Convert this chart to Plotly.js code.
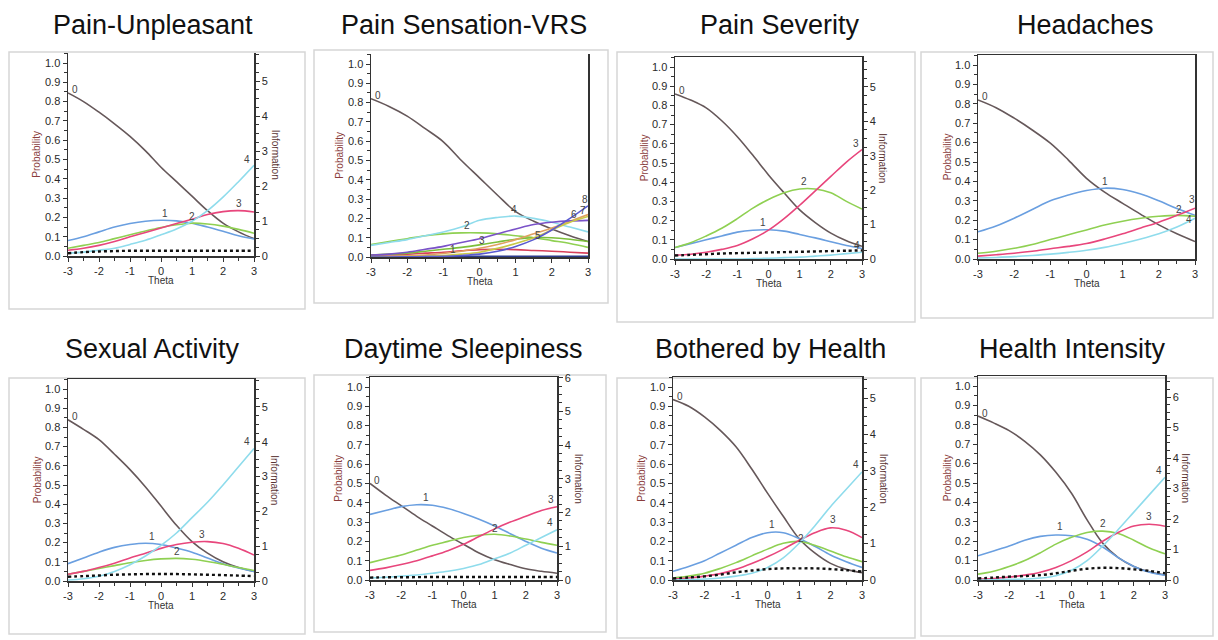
<!DOCTYPE html>
<html><head><meta charset="utf-8">
<script src="https://cdn.plot.ly/plotly-3.0.1.min.js"></script>
<style>html,body{margin:0;padding:0;background:#fff}#chart{width:1218px;height:640px}</style>
</head><body><div id="chart"></div>
<script>
// ---------- data ----------
const theta = [-3,-2.5,-2,-1.5,-1,-0.5,0,0.5,1,1.5,2,2.5,3];
const xTicks = [-3,-2,-1,0,1,2,3];
const titles = ['Pain-Unpleasant','Pain Sensation-VRS','Pain Severity','Headaches',
                'Sexual Activity','Daytime Sleepiness','Bothered by Health','Health Intensity'];

// Pain-Unpleasant
const pu0 = [0.845,0.80,0.745,0.685,0.62,0.545,0.46,0.385,0.31,0.235,0.17,0.125,0.09];
const pu1 = [0.08,0.10,0.125,0.15,0.168,0.18,0.185,0.182,0.17,0.15,0.128,0.105,0.088];
const pu2 = [0.04,0.055,0.07,0.09,0.11,0.13,0.148,0.162,0.17,0.166,0.155,0.138,0.118];
const pu3 = [0.03,0.04,0.055,0.075,0.10,0.122,0.145,0.168,0.19,0.215,0.23,0.235,0.228];
const pu4 = [0.015,0.02,0.03,0.04,0.06,0.082,0.11,0.14,0.18,0.235,0.305,0.385,0.47];
const puInfo = [0.08,0.11,0.13,0.14,0.15,0.15,0.15,0.15,0.15,0.15,0.15,0.15,0.15];

// Pain Sensation-VRS
const vrs0 = [0.82,0.78,0.73,0.665,0.597,0.50,0.41,0.32,0.235,0.185,0.145,0.11,0.08];
const vrs1 = [0.01,0.012,0.015,0.02,0.025,0.032,0.038,0.04,0.038,0.034,0.03,0.025,0.02];
const vrs2 = [0.065,0.08,0.095,0.11,0.12,0.125,0.125,0.12,0.11,0.10,0.085,0.07,0.05];
const vrs3 = [0.01,0.015,0.02,0.03,0.04,0.05,0.063,0.078,0.092,0.10,0.10,0.092,0.08];
const vrs4 = [0.06,0.075,0.09,0.11,0.13,0.155,0.19,0.205,0.212,0.20,0.18,0.155,0.13];
const vrs5 = [0.0,0.003,0.006,0.01,0.018,0.03,0.045,0.065,0.09,0.12,0.15,0.185,0.22];
const vrs6 = [0.01,0.015,0.025,0.04,0.055,0.075,0.095,0.12,0.145,0.168,0.18,0.187,0.19];
const vrs7 = [0.0,0.001,0.002,0.004,0.008,0.015,0.025,0.045,0.07,0.10,0.14,0.18,0.21];
const vrs8 = [0.0,0.0,0.001,0.002,0.004,0.008,0.015,0.03,0.055,0.09,0.14,0.20,0.265];
const vrsBase = [0.003,0.003,0.003,0.003,0.003,0.003,0.003,0.003,0.003,0.003,0.003,0.003,0.003];

// Pain Severity
const ps0 = [0.86,0.828,0.787,0.72,0.637,0.54,0.438,0.345,0.256,0.19,0.135,0.095,0.066];
const ps1 = [0.06,0.08,0.10,0.12,0.14,0.15,0.152,0.145,0.128,0.11,0.09,0.07,0.055];
const ps2 = [0.06,0.085,0.12,0.16,0.21,0.265,0.31,0.345,0.365,0.365,0.345,0.30,0.26];
const ps3 = [0.02,0.025,0.035,0.05,0.07,0.105,0.15,0.21,0.28,0.355,0.43,0.505,0.57];
const ps4 = [0.0,0.0,0.0,0.0,0.0,0.002,0.004,0.007,0.01,0.015,0.02,0.028,0.035];
const psInfo = [0.1,0.12,0.14,0.16,0.17,0.18,0.19,0.2,0.21,0.22,0.23,0.24,0.25];

// Headaches
const hd0 = [0.82,0.78,0.726,0.665,0.597,0.51,0.416,0.345,0.287,0.23,0.176,0.13,0.09];
const hd1 = [0.14,0.17,0.21,0.255,0.30,0.33,0.353,0.365,0.358,0.335,0.30,0.26,0.225];
const hd2 = [0.03,0.04,0.055,0.075,0.10,0.125,0.15,0.175,0.195,0.21,0.22,0.225,0.22];
const hd3 = [0.015,0.022,0.03,0.04,0.053,0.065,0.08,0.103,0.13,0.16,0.19,0.225,0.262];
const hd4 = [0.005,0.008,0.012,0.018,0.025,0.034,0.045,0.06,0.08,0.103,0.13,0.165,0.21];

// Sexual Activity
const sa0 = [0.84,0.79,0.736,0.66,0.58,0.49,0.39,0.29,0.205,0.145,0.10,0.07,0.05];
const sa1 = [0.09,0.12,0.15,0.175,0.19,0.197,0.19,0.172,0.15,0.12,0.09,0.068,0.05];
const sa2 = [0.035,0.05,0.065,0.08,0.095,0.107,0.115,0.118,0.113,0.102,0.087,0.07,0.055];
const sa3 = [0.035,0.05,0.07,0.093,0.12,0.145,0.17,0.19,0.202,0.205,0.195,0.17,0.135];
const sa4 = [0.005,0.012,0.025,0.05,0.085,0.13,0.185,0.25,0.33,0.41,0.50,0.595,0.69];
const saInfo = [0.12,0.14,0.16,0.18,0.19,0.2,0.2,0.2,0.19,0.18,0.17,0.155,0.14];

// Daytime Sleepiness
const ds0 = [0.50,0.44,0.385,0.33,0.28,0.23,0.185,0.14,0.105,0.08,0.058,0.045,0.035];
const ds1 = [0.34,0.36,0.38,0.39,0.387,0.37,0.345,0.315,0.28,0.24,0.20,0.165,0.14];
const ds2 = [0.09,0.11,0.13,0.155,0.18,0.20,0.22,0.232,0.237,0.228,0.212,0.195,0.18];
const ds3 = [0.05,0.063,0.08,0.10,0.125,0.152,0.185,0.225,0.265,0.30,0.33,0.36,0.38];
const ds4 = [0.01,0.014,0.02,0.026,0.035,0.045,0.06,0.08,0.11,0.14,0.18,0.22,0.26];
const dsInfo = [0.07,0.08,0.08,0.085,0.09,0.09,0.09,0.09,0.09,0.09,0.09,0.09,0.09];

// Bothered by Health
const bh0 = [0.935,0.90,0.845,0.775,0.69,0.575,0.45,0.33,0.215,0.14,0.086,0.055,0.038];
const bh1 = [0.045,0.07,0.10,0.14,0.18,0.22,0.245,0.245,0.215,0.175,0.13,0.095,0.065];
const bh2 = [0.01,0.02,0.035,0.06,0.09,0.125,0.16,0.19,0.20,0.18,0.15,0.12,0.095];
const bh3 = [0.005,0.01,0.02,0.033,0.055,0.085,0.12,0.16,0.205,0.245,0.27,0.258,0.22];
const bh4 = [0.0,0.002,0.005,0.01,0.02,0.035,0.065,0.115,0.19,0.28,0.38,0.47,0.56];
const bhInfo = [0.04,0.07,0.1,0.15,0.21,0.26,0.3,0.32,0.32,0.32,0.3,0.27,0.23];

// Health Intensity
const hi0 = [0.845,0.81,0.77,0.715,0.645,0.555,0.447,0.31,0.19,0.115,0.07,0.042,0.026];
const hi1 = [0.125,0.15,0.175,0.205,0.225,0.232,0.228,0.21,0.17,0.115,0.07,0.04,0.025];
const hi2 = [0.03,0.045,0.07,0.10,0.14,0.185,0.22,0.245,0.252,0.24,0.205,0.165,0.135];
const hi3 = [0.005,0.008,0.015,0.025,0.04,0.065,0.10,0.145,0.20,0.245,0.278,0.287,0.277];
const hi4 = [0.0,0.001,0.003,0.005,0.01,0.022,0.05,0.10,0.175,0.26,0.35,0.44,0.53];
const hiInfo = [0.05,0.08,0.11,0.13,0.16,0.22,0.3,0.37,0.4,0.39,0.35,0.3,0.22];

// ---------- styles ----------
const COL = {c0:'#66585a', c1:'#6a9fe0', c2:'#8fd052', c3:'#e8467c', c4:'#8fdcec',
             c5:'#e0a060', c6:'#7a52c8', c7:'#c8c848', c8:'#5a5ad0', cb:'#2a3a8a', c3b:'#7cbf3a', c1b:'#d8405a'};
// curve: [values, label, colorKey, labelIndex, xshift, yshift]
const panels = [
 {title:titles[0], tx:153, ty:25, box:[9,52,305,309], plot:[68,254,256,63], top:false, infoMax:5.79, info:puInfo,
  curves:[[pu0,'0','c0',0,7,3],[pu1,'1','c1',6,4,7],[pu2,'2','c2',8,0,7],[pu3,'3','c3',11,0,7],[pu4,'4','c4',12,-7,6]]},
 {title:titles[1], tx:464, ty:25, box:[314,50,608,303], plot:[371,588,257,64], top:false, infoMax:null, info:null,
  curves:[[vrsBase,'','cb',0,0,0],[vrs0,'0','c0',0,7,3],[vrs1,'1','c1b',4,10,3],[vrs2,'2','c2',5,6,7],[vrs3,'3','c3b',6,2,4],
          [vrs4,'4','c4',8,-2,7],[vrs5,'5','c5',9,4,-2],[vrs6,'6','c6',11,4,6],[vrs7,'7','c7',12,-5,6],[vrs8,'8','c8',12,-3,6]]},
 {title:titles[2], tx:780, ty:25, box:[617,52,915,322], plot:[675,862,259,67], top:true, infoMax:5.86, info:psInfo,
  curves:[[ps0,'0','c0',0,7,3],[ps1,'1','c1',6,-6,7],[ps2,'2','c2',8,4,7],[ps3,'3','c3',12,-6,6],[ps4,'4','c4',12,-5,7]]},
 {title:titles[3], tx:1085, ty:25, box:[921,52,1213,318], plot:[978,1195,259,65], top:true, infoMax:null, info:null,
  curves:[[hd0,'0','c0',0,7,3],[hd1,'1','c1',7,0,7],[hd2,'2','c2',11,2,6],[hd3,'3','c3',12,-3,9],[hd4,'4','c4',12,-6,-1]]},
 {title:titles[4], tx:152, ty:349, box:[9,378,305,634], plot:[68,254,581,389], top:true, infoMax:5.79, info:saInfo,
  curves:[[sa0,'0','c0',0,7,3],[sa1,'1','c1',5,6,7],[sa2,'2','c2',7,0,7],[sa3,'3','c3',9,-6,7],[sa4,'4','c4',12,-7,7]]},
 {title:titles[5], tx:463, ty:349, box:[314,375,606,632], plot:[370,557,580,387], top:true, infoMax:6.01, info:dsInfo,
  curves:[[ds0,'0','c0',0,7,3],[ds1,'1','c1',4,-6,8],[ds2,'2','c2',8,0,6],[ds3,'3','c3',12,-6,7],[ds4,'4','c4',12,-7,7]]},
 {title:titles[6], tx:771, ty:349, box:[617,378,915,638], plot:[673,862,580,387], top:true, infoMax:5.57, info:bhInfo,
  curves:[[bh0,'0','c0',0,7,3],[bh1,'1','c1',6,4,8],[bh2,'2','c2',8,2,3],[bh3,'3','c3',10,2,8],[bh4,'4','c4',12,-6,7]]},
 {title:titles[7], tx:1072, ty:349, box:[921,378,1213,636], plot:[978,1165,580,386], top:true, infoMax:6.68, info:hiInfo,
  curves:[[hi0,'0','c0',0,7,3],[hi1,'1','c1',5,4,8],[hi2,'2','c2',8,0,8],[hi3,'3','c3',11,0,8],[hi4,'4','c4',12,-6,7]]}
];

const W=1218, H=640, TOP=1.05;
const AX='#333';
const tickFont = {family:'Arial, Liberation Sans, sans-serif', size:11, color:'#2a2a2a'};
const traces=[], annotations=[], shapes=[];
const layout = {width:W, height:H, margin:{l:0,r:0,t:0,b:0}, showlegend:false,
  paper_bgcolor:'#fff', plot_bgcolor:'rgba(0,0,0,0)', font:{family:'Arial, Liberation Sans, sans-serif'}};

let extra = 9;
panels.forEach((p,i)=>{
  const n=i+1, sfx = n===1?'':String(n);
  const xa='x'+sfx, ya='y'+sfx;
  const [xl,xr,y0,y1] = p.plot;
  const ytop = y0 - TOP*(y0-y1);
  layout['xaxis'+sfx] = {domain:[xl/W, xr/W], anchor:ya, range:[-3,3], tickvals:xTicks, ticktext:xTicks.map(String),
    showline:true, linecolor:AX, linewidth:1.5, mirror:p.top, ticks:'outside', ticklen:4, tickcolor:AX,
    minor:{ticks:'outside', dtick:0.5, ticklen:3, tickcolor:AX}, showgrid:false, zeroline:false,
    tickfont:tickFont, fixedrange:true};
  layout['yaxis'+sfx] = {domain:[(H-y0)/H, (H-ytop)/H], anchor:xa, range:[0,TOP], dtick:0.1, tick0:0,
    tickformat:'.1f', showline:true, linecolor:AX, linewidth:1.5, mirror:(p.info? false : true),
    ticks:'outside', ticklen:4, tickcolor:AX, minor:{ticks:'outside', dtick:0.05, ticklen:3, tickcolor:AX},
    showgrid:false, zeroline:false, tickfont:tickFont, fixedrange:true};

  p.curves.forEach(c=>{
    const [vals,lab,ck,li,dx,dy] = c;
    traces.push({x:theta, y:vals, xaxis:xa, yaxis:ya, mode:'lines', hoverinfo:'skip',
      line:{color:COL[ck], width:1.6, shape:'spline', smoothing:1}});
    if(lab) annotations.push({xref:xa, yref:ya, x:theta[li], y:vals[li], text:lab, showarrow:false,
      xshift:dx, yshift:dy, font:{size:10, color:'#444'}});
  });

  if(p.info){
    const ra = 'y'+extra; extra++;
    layout['yaxis'+ra.slice(1)] = {overlaying:ya, anchor:xa, side:'right', range:[0,p.infoMax], dtick:1, tick0:0,
      showline:true, linecolor:AX, linewidth:1.5, ticks:'outside', ticklen:4, tickcolor:AX,
      minor:{ticks:'outside', dtick:0.25, ticklen:3, tickcolor:AX}, showgrid:false, zeroline:false,
      tickfont:tickFont, fixedrange:true};
    traces.push({x:theta, y:p.info, xaxis:xa, yaxis:ra, mode:'lines', hoverinfo:'skip',
      line:{color:'#111', width:2.4, dash:'3px,3px', shape:'spline'}});
    annotations.push({xref:xa+' domain', yref:ya+' domain', x:1, y:0.5, xshift:21, xanchor:'center', yanchor:'middle',
      text:'Information', textangle:90, showarrow:false, font:{size:10, color:'#5a3434'}});
  }
  annotations.push({xref:xa+' domain', yref:ya+' domain', x:0, y:0.5, xshift:-31, xanchor:'center', yanchor:'middle',
    text:'Probability', textangle:-90, showarrow:false, font:{size:10, color:'#8a3c3c'}});
  annotations.push({xref:xa+' domain', yref:ya+' domain', x:0.5, y:0, yshift:-24, xanchor:'center', yanchor:'middle',
    text:'Theta', showarrow:false, font:{size:10, color:'#333'}});
  annotations.push({xref:'paper', yref:'paper', x:p.tx/W, y:(H-p.ty)/H, text:p.title, showarrow:false,
    xanchor:'center', yanchor:'middle', font:{size:27, color:'#111', family:'Arial, Liberation Sans, sans-serif'}});
  const [bl,bt,br,bb] = p.box;
  shapes.push({type:'rect', xref:'paper', yref:'paper', x0:bl/W, x1:br/W, y0:(H-bb)/H, y1:(H-bt)/H,
    line:{color:'#d6d6d6', width:1.5}, layer:'below'});
});
layout.annotations = annotations;
layout.shapes = shapes;
Plotly.newPlot('chart', traces, layout, {staticPlot:true, displayModeBar:false});
</script></body></html>
